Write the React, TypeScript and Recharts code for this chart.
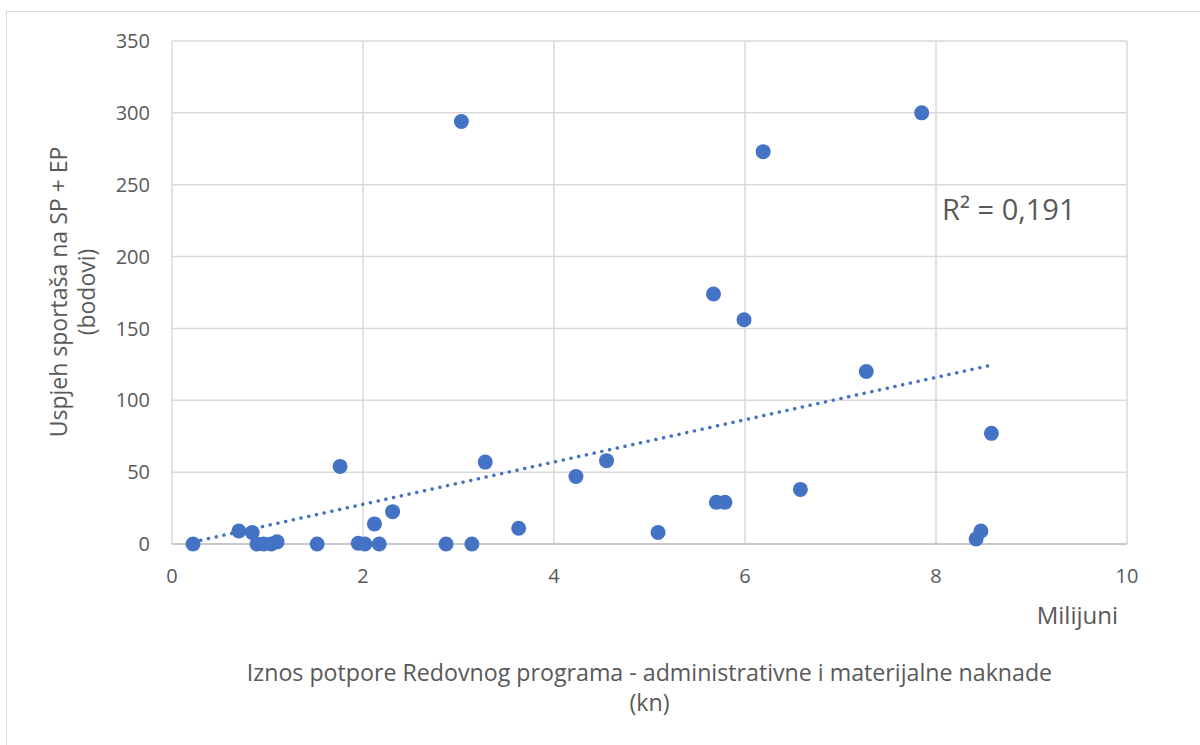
import React from 'react';
import { ScatterChart, Scatter, XAxis, YAxis, CartesianGrid, ReferenceLine } from 'recharts';

// Iznos potpore (milijuni kn) i uspjeh sportaša (bodovi)
const supportMillions = [
  0.22, 0.7, 0.84, 0.89, 0.96, 1.04, 1.1, 1.52, 1.76, 1.95, 2.02, 2.12, 2.17, 2.31, 2.87, 3.03, 3.14,
  3.28, 3.63, 4.23, 4.55, 5.09, 5.67, 5.7, 5.79, 5.99, 6.19, 6.58, 7.27, 7.85, 8.42, 8.47, 8.58,
];
const successPoints = [
  0, 9, 8, 0, 0, 0, 1.5, 0, 54, 0.5, 0, 14, 0, 22.5, 0, 294, 0, 57, 11, 47, 58, 8, 174, 29, 29, 156,
  273, 38, 120, 300, 3.5, 9, 77,
];
const xTicks = [0, 2, 4, 6, 8, 10];
const yTicks = [0, 50, 100, 150, 200, 250, 300, 350];
const rSquaredText = 'R² = 0,191';
const xTitle = ['Iznos potpore Redovnog programa - administrativne i materijalne naknade', '(kn)'];
const yTitle = ['Uspjeh sportaša na SP + EP', '(bodovi)'];
const unitsLabel = 'Milijuni';

const points = supportMillions.map((x, i) => ({ x, y: successPoints[i] }));

// linear trendline (least squares), like Excel's
const n = points.length;
const meanX = points.reduce((s, p) => s + p.x, 0) / n;
const meanY = points.reduce((s, p) => s + p.y, 0) / n;
const slope =
  points.reduce((s, p) => s + (p.x - meanX) * (p.y - meanY), 0) /
  points.reduce((s, p) => s + (p.x - meanX) ** 2, 0);
const intercept = meanY - slope * meanX;
const minX = Math.min(...supportMillions);
const maxX = Math.max(...supportMillions);
const trendSegment = [
  { x: minX, y: intercept + slope * minX },
  { x: maxX, y: intercept + slope * maxX },
];

const BLUE = '#4472C4';
const TEXT = '#595959';

const renderDot = (props: any) => <circle cx={props.cx} cy={props.cy} r={7.5} fill={BLUE} />;

export default function App() {
  return (
    <div
      style={{
        position: 'fixed',
        left: 0,
        top: 0,
        width: 1200,
        height: 745,
        overflow: 'hidden',
        background: '#fff',
        fontFamily: '"Open Sans", sans-serif',
      }}
    >
      <div
        style={{
          position: 'absolute',
          left: 6,
          top: 11,
          width: 1300,
          height: 900,
          border: '1.5px solid #d9d9d9',
        }}
      />
      <div style={{ position: 'absolute', left: 0, top: 0 }}>
        <ScatterChart width={1200} height={745} margin={{ top: 41, right: 73, bottom: 171, left: 112 }}>
          <CartesianGrid stroke="#d9d9d9" strokeWidth={1.5} />
          <XAxis
            type="number"
            dataKey="x"
            domain={[0, 10]}
            ticks={xTicks}
            interval={0}
            tickLine={false}
            axisLine={{ stroke: '#bfbfbf', strokeWidth: 1.5 }}
            tick={{ fontSize: 20, fill: TEXT }}
            tickMargin={19}
            height={30}
          />
          <YAxis
            type="number"
            dataKey="y"
            domain={[0, 350]}
            ticks={yTicks}
            interval={0}
            tickLine={false}
            axisLine={false}
            tick={{ fontSize: 20, fill: TEXT }}
            tickMargin={16}
            width={60}
          />
          <ReferenceLine
            segment={trendSegment}
            stroke={BLUE}
            strokeWidth={3.5}
            strokeDasharray="0.1 7.8"
            strokeLinecap="round"
          />
          <Scatter data={points} isAnimationActive={false} shape={renderDot} />
        </ScatterChart>
      </div>
      <svg
        width={1200}
        height={745}
        style={{ position: 'absolute', left: 0, top: 0, pointerEvents: 'none' }}
        fontFamily='"Open Sans", sans-serif'
        fill={TEXT}
      >
        <text x={942} y={220} fontSize={29}>
          {rSquaredText}
        </text>
        <text x={1118} y={624} fontSize={24} textAnchor="end">
          {unitsLabel}
        </text>
        <text x={649.5} y={681} fontSize={23.2} textAnchor="middle">
          {xTitle[0]}
        </text>
        <text x={649.5} y={711} fontSize={23.2} textAnchor="middle">
          {xTitle[1]}
        </text>
        <text transform="translate(67,292) rotate(-90)" fontSize={23} textAnchor="middle">
          {yTitle[0]}
        </text>
        <text transform="translate(95,292) rotate(-90)" fontSize={23} textAnchor="middle">
          {yTitle[1]}
        </text>
      </svg>
    </div>
  );
}
